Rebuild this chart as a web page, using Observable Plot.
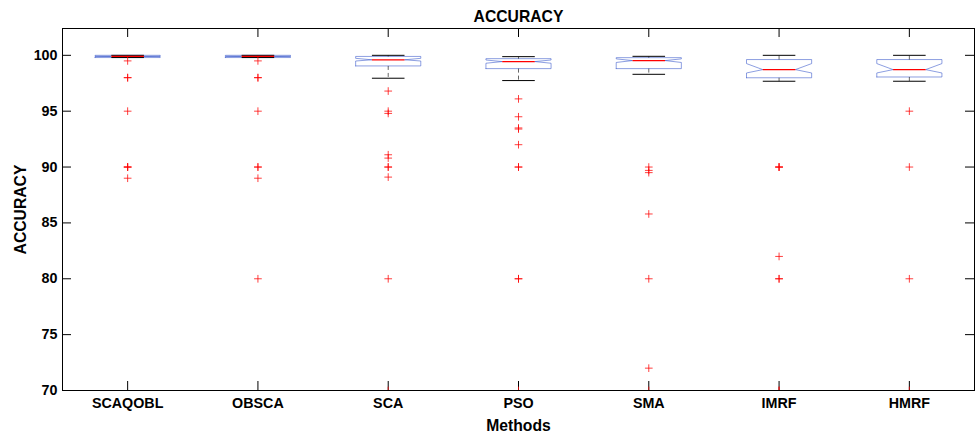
<!DOCTYPE html>
<html>
<head>
<meta charset="utf-8">
<script src="https://cdn.jsdelivr.net/npm/d3@7"></script>
<script src="https://cdn.jsdelivr.net/npm/@observablehq/plot@0.6"></script>
<style>
  html, body { margin: 0; padding: 0; background: #fff; }
</style>
</head>
<body>
<div id="chart"></div>
<script>
// ---- data ----
const methods   = ["SCAQOBL", "OBSCA", "SCA", "PSO", "SMA", "IMRF", "HMRF"];
const q1        = [99.80, 99.80, 99.05, 98.81, 98.81, 97.99, 98.06];
const medians   = [99.90, 99.90, 99.60, 99.44, 99.53, 98.72, 98.72];
const q3        = [100.0, 100.0, 99.90, 99.70, 99.79, 99.62, 99.62];
const notchLo   = [99.88, 99.88, 99.49, 99.29, 99.36, 98.42, 98.42];
const notchHi   = [99.92, 99.92, 99.73, 99.58, 99.68, 99.26, 99.26];
const whiskerLo = [99.80, 99.80, 97.95, 97.74, 98.30, 97.68, 97.68];
const whiskerHi = [100.0, 100.0, 100.0, 99.88, 99.91, 100.0, 100.0];
const outliers = [
  [99.5, 98, 98, 95, 90, 90, 90, 89],
  [99.5, 98, 98, 95, 90, 90, 89, 80],
  [96.8, 95.0, 94.8, 91.1, 90.8, 90, 90, 89.1, 80, 70],
  [96.1, 94.5, 93.5, 93.4, 92, 90, 90, 80, 80, 70],
  [90, 89.7, 89.5, 85.8, 80, 72, 70],
  [90, 90, 90, 82, 80, 80, 70, 70],
  [95, 90, 80, 70]
];
const yTicks = [70, 75, 80, 85, 90, 95, 100];
const yDomain = [70, 102.4];
const title = "ACCURACY";
const yLabel = "ACCURACY";
const xLabel = "Methods";

// ---- derived tables ----
const W = 976, H = 436;
const mL = 62, mR = 2, mT = 28, mB = 46;
const plotW = W - mL - mR, plotH = H - mT - mB;
const tickLen = 9;
const hw = 0.25, iw = 0.125;
const xs = methods.map((m, i) => i + 1);

const boxPts = [];
methods.forEach((m, i) => {
  const x = xs[i];
  const pts = [
    [x - hw, q1[i]], [x - hw, notchLo[i]], [x - iw, medians[i]], [x - hw, notchHi[i]], [x - hw, q3[i]],
    [x + hw, q3[i]], [x + hw, notchHi[i]], [x + iw, medians[i]], [x + hw, notchLo[i]], [x + hw, q1[i]],
    [x - hw, q1[i]]
  ];
  pts.forEach(([px, py]) => boxPts.push({m, x: px, y: py}));
});
const stats = methods.map((m, i) => ({
  m, x: xs[i], q1: q1[i], q3: q3[i], med: medians[i], wl: whiskerLo[i], wh: whiskerHi[i]
}));
const outPts = outliers.flatMap((arr, i) => arr.map(v => ({x: xs[i], y: v})));

const chart = Plot.plot({
  width: W, height: H,
  marginLeft: mL, marginRight: mR, marginTop: mT, marginBottom: mB,
  style: {fontFamily: "'Liberation Sans', Arial, Helvetica, sans-serif", fontSize: "14.3px", fontWeight: "bold", color: "#000", background: "#fff"},
  x: {domain: [0.5, 7.5]},
  y: {domain: yDomain},
  marks: [
    // notched boxes
    Plot.line(boxPts, {x: "x", y: "y", z: "m", stroke: "#3050c8", strokeOpacity: 0.55, strokeWidth: 1, curve: "linear"}),
    // whiskers (dashed)
    Plot.link(stats, {x1: "x", x2: "x", y1: "q3", y2: "wh", stroke: "#000", strokeOpacity: 0.6, strokeDasharray: "4,3"}),
    Plot.link(stats, {x1: "x", x2: "x", y1: "q1", y2: "wl", stroke: "#000", strokeOpacity: 0.6, strokeDasharray: "4,3"}),
    // whisker caps
    Plot.link(stats, {x1: d => d.x - iw, x2: d => d.x + iw, y1: "wh", y2: "wh", stroke: "#000"}),
    Plot.link(stats, {x1: d => d.x - iw, x2: d => d.x + iw, y1: "wl", y2: "wl", stroke: "#000"}),
    // medians
    Plot.link(stats, {x1: d => d.x - iw, x2: d => d.x + iw, y1: "med", y2: "med", stroke: "#ff0000", strokeWidth: 1.2}),
    // inward ticks
    Plot.tickY(yTicks, {y: d => d, insetRight: plotW - tickLen, stroke: "#000"}),
    Plot.tickY(yTicks, {y: d => d, insetLeft: plotW - tickLen, stroke: "#000"}),
    Plot.tickX(xs, {x: d => d, insetTop: plotH - tickLen, stroke: "#000"}),
    Plot.tickX(xs, {x: d => d, insetBottom: plotH - tickLen, stroke: "#000"}),
    // axes labels
    Plot.axisY({ticks: yTicks, tickSize: 0, tickPadding: 5, label: null}),
    Plot.axisX({ticks: xs, tickSize: 0, tickPadding: 7, label: null, tickFormat: d => methods[d - 1]}),
    Plot.frame({stroke: "#000", strokeWidth: 1}),
    // outliers (on top, clipped to the axes box)
    Plot.dot(outPts, {x: "x", y: "y", symbol: "plus", r: 2.6, stroke: "#ff0000", strokeOpacity: 0.75, strokeWidth: 1, clip: true}),
    Plot.text([title], {frameAnchor: "top", lineAnchor: "middle", dy: -12, fontSize: 15.7, fontWeight: "bold"}),
    Plot.text([yLabel], {frameAnchor: "left", textAnchor: "middle", lineAnchor: "middle", dx: -42, rotate: -90, fontSize: 15.7, fontWeight: "bold"}),
    Plot.text([xLabel], {frameAnchor: "bottom", lineAnchor: "middle", dy: 35, fontSize: 15.7, fontWeight: "bold"})
  ]
});
document.getElementById("chart").appendChild(chart);
</script>
</body>
</html>
